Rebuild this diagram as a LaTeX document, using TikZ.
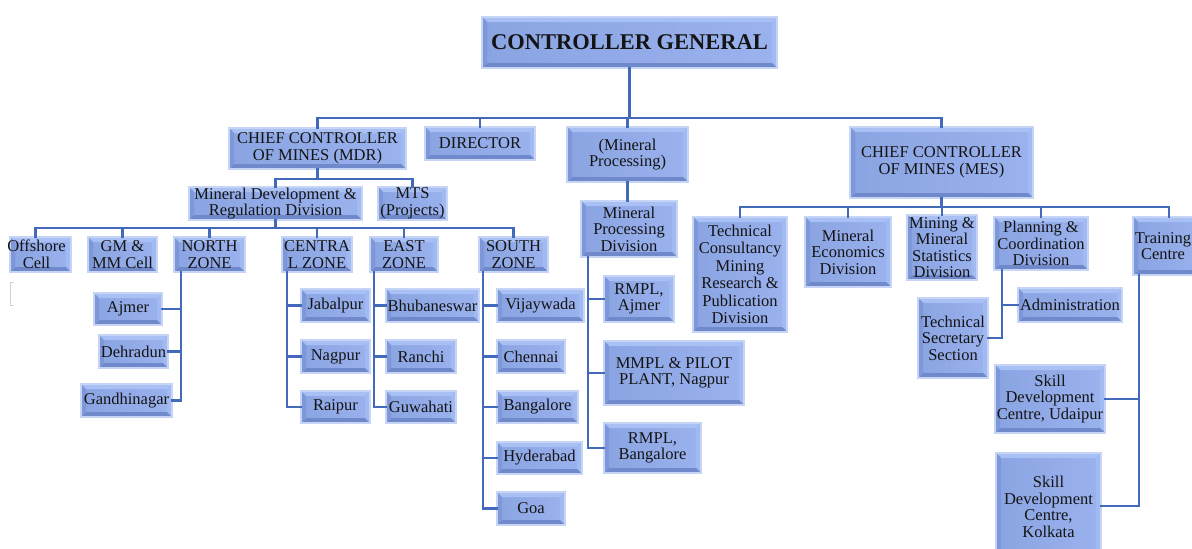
\documentclass[tikz,border=0pt]{standalone}
\usepackage{fontspec}
\setmainfont{Liberation Serif}
\newfontfamily\orgfont{Liberation Serif}
\usetikzlibrary{calc,fit}

\definecolor{faceL}{HTML}{8AA4E2}
\definecolor{faceR}{HTML}{9AB2EE}
\definecolor{glow}{HTML}{C6D4F5}
\definecolor{bvtop}{HTML}{A9C0F5}
\definecolor{bvright}{HTML}{A2BAF2}
\definecolor{bvbottom}{HTML}{7089CB}
\definecolor{bvleft}{HTML}{7E97D8}
\definecolor{linkblue}{HTML}{4369BA}
\definecolor{ink}{HTML}{141414}

\newcommand{\bvw}{5pt}

\tikzset{
  orgbox/.style={draw=glow, line width=1.6pt, left color=faceL, right color=faceR,
    inner sep=0pt, outer sep=0pt,
    path picture={
      \coordinate (pa) at (path picture bounding box.north west);
      \coordinate (pb) at (path picture bounding box.south east);
      \fill[bvtop] (pa) -- (pa -| pb) -- ([shift={(-\bvw,-\bvw)}]pa -| pb) -- ([shift={(\bvw,-\bvw)}]pa) -- cycle;
      \fill[bvright] (pa -| pb) -- (pb) -- ([shift={(-\bvw,\bvw)}]pb) -- ([shift={(-\bvw,-\bvw)}]pa -| pb) -- cycle;
      \fill[bvbottom] (pb) -- (pb -| pa) -- ([shift={(\bvw,\bvw)}]pb -| pa) -- ([shift={(-\bvw,\bvw)}]pb) -- cycle;
      \fill[bvleft] (pb -| pa) -- (pa) -- ([shift={(\bvw,-\bvw)}]pa) -- ([shift={(\bvw,\bvw)}]pb -| pa) -- cycle;
    }},
  txt/.style={text=ink, align=center, inner sep=0pt, font=\orgfont\fontsize{16.5}{16.5}\selectfont},
  conn/.style={draw=linkblue, line width=2.4pt, line cap=rect}
}

% \obox{name}{x1}{y1}{x2}{y2}{text}
\newcommand{\obox}[6]{%
  \node[orgbox, fit={(#2,#3) (#4,#5)}, label={[txt]center:#6}] (#1) {};}

\begin{document}
\begin{tikzpicture}[x=1pt,y=-1pt]
\useasboundingbox (0,0) rectangle (1192,549);

% ---------- top ----------
\node[orgbox, fit={(482,17) (777,68)},
  label={[txt, font=\orgfont\bfseries\fontsize{22.5}{24}\selectfont]center:CONTROLLER GENERAL}] (cg) {};

% ---------- second level ----------
\obox{mdr}{229}{128}{406}{169}{CHIEF CONTROLLER\\OF MINES (MDR)}
\obox{dir}{425}{127}{535}{160}{DIRECTOR}
\obox{mp}{567}{127}{688}{182}{(Mineral\\Processing)}
\obox{mes}{850}{127}{1033}{198}{CHIEF CONTROLLER\\OF MINES (MES)}

% ---------- MDR branch ----------
\obox{mdrd}{189}{187}{362}{220}{Mineral Development \&\\Regulation Division}
\obox{mts}{378}{187}{447}{220}{MTS\\(Projects)}

\node[orgbox, fit={(10,237) (71,272)},
  label={[txt, xshift=-4pt]center:Offshore\\Cell}] (off) {};
\obox{gm}{88}{237}{157}{272}{GM \&\\MM Cell}
\obox{nz}{174}{237}{245}{272}{NORTH\\ZONE}
\obox{cz}{282}{237}{352}{272}{CENTRA\\L ZONE}
\obox{ez}{370}{237}{438}{272}{EAST\\ZONE}
\obox{sz}{479}{237}{548}{272}{SOUTH\\ZONE}

\obox{ajm}{94}{293}{162}{325}{Ajmer}
\obox{deh}{99}{335}{168}{368}{Dehradun}
\obox{gan}{81}{384}{172}{417}{Gandhinagar}

\obox{jab}{301}{289}{370}{322}{Jabalpur}
\obox{nag}{301}{340}{370}{373}{Nagpur}
\obox{rai}{301}{391}{370}{423}{Raipur}

\obox{bhu}{386}{289}{479}{322}{Bhubaneswar}
\obox{ran}{386}{340}{456}{373}{Ranchi}
\obox{guw}{386}{391}{456}{423}{Guwahati}

\obox{vij}{497}{289}{584}{322}{Vijaywada}
\obox{che}{497}{340}{565}{373}{Chennai}
\obox{ban}{497}{391}{578}{423}{Bangalore}
\obox{hyd}{497}{442}{582}{474}{Hyderabad}
\obox{goa}{497}{492}{565}{525}{Goa}

% ---------- mineral processing branch ----------
\obox{mpd}{581}{201}{677}{257}{Mineral\\Processing\\Division}
\obox{rma}{604}{276}{674}{322}{RMPL,\\Ajmer}
\obox{mmp}{604}{341}{744}{405}{MMPL \& PILOT\\PLANT, Nagpur}
\obox{rmb}{604}{423}{701}{473}{RMPL,\\Bangalore}

% ---------- MES branch ----------
\node[orgbox, fit={(693,217) (787,332)},
  label={[txt, font=\orgfont\fontsize{16.5}{17.5}\selectfont]center:Technical\\Consultancy\\Mining\\Research \&\\Publication\\Division}] (tcm) {};
\obox{med}{805}{217}{891}{287}{Mineral\\Economics\\Division}
\obox{mms}{907}{215}{977}{280}{Mining \&\\Mineral\\Statistics\\Division}
\obox{pcd}{994}{217}{1088}{270}{Planning \&\\Coordination\\Division}
\node[orgbox, fit={(1133,217) (1205,275)},
  label={[txt, xshift=-6pt]center:Training\\Centre}] (trc) {};

\obox{adm}{1018}{288}{1122}{322}{Administration}
\obox{tss}{918}{298}{988}{378}{Technical\\Secretary\\Section}
\obox{sdu}{995}{365}{1105}{433}{Skill\\Development\\Centre, Udaipur}
\node[orgbox, fit={(996,453) (1101,559)},
  label={[txt, yshift=-1pt]center:Skill\\Development\\Centre,\\Kolkata}] (sdk) {};

% faint bracket mark at the left margin
\draw[black!18, line width=0.8pt] (14,282) -- (10,282) -- (10,305) -- (14,305);

% ---------- connectors ----------
\coordinate (t1) at ($(cg.south)+(0,50)$);
\draw[conn] (cg.south) -- (t1);
\foreach \n in {mdr,dir,mp,mes} \draw[conn] (\n.north) |- (t1);

\coordinate (t2) at ($(mdr.south)+(0,10)$);
\draw[conn] (mdr.south) -- (t2);
\draw[conn] (mdrd.north) |- (t2);
\draw[conn] (mts.north) |- (t2);

\coordinate (t3) at ($(mdrd.south)+(0,8)$);
\draw[conn] (mdrd.south) -- (t3);
\draw[conn] ($(off.north)+(-5,0)$) |- (t3);
\foreach \n in {gm,nz,cz,ez,sz} \draw[conn] (\n.north) |- (t3);

% north zone
\coordinate (nv) at ($(nz.south west)+(7,0)$);
\draw[conn] (nv) |- (gan.east);
\draw[conn] (ajm.east) -- (ajm.east -| nv);
\draw[conn] (deh.east) -- (deh.east -| nv);

% central zone
\coordinate (cv) at ($(cz.south west)+(5,0)$);
\draw[conn] (cv) |- (rai.west);
\draw[conn] (jab.west) -- (jab.west -| cv);
\draw[conn] (nag.west) -- (nag.west -| cv);

% east zone
\coordinate (ev) at ($(ez.south west)+(4,0)$);
\draw[conn] (ev) |- (guw.west);
\draw[conn] (bhu.west) -- (bhu.west -| ev);
\draw[conn] (ran.west) -- (ran.west -| ev);

% south zone
\coordinate (sv) at ($(sz.south west)+(4,0)$);
\draw[conn] (sv) |- (goa.west);
\foreach \n in {vij,che,ban,hyd} \draw[conn] (\n.west) -- (\n.west -| sv);

% mineral processing
\draw[conn] (mp.south) -- (mp.south |- mpd.north);
\coordinate (mv) at ($(mpd.south west)+(7,0)$);
\draw[conn] (mv) |- (rmb.west);
\draw[conn] (rma.west) -- (rma.west -| mv);
\draw[conn] (mmp.west) -- (mmp.west -| mv);

% MES
\coordinate (t4) at ($(mes.south)+(0,9)$);
\draw[conn] (mes.south) -- (t4);
\foreach \n in {tcm,med,mms,pcd,trc} \draw[conn] (\n.north) |- (t4);

\coordinate (pv) at ($(pcd.south west)+(8,0)$);
\draw[conn] (pv) |- (tss.east);
\draw[conn] (adm.west) -- (adm.west -| pv);

\coordinate (tv) at ($(trc.south west)+(6,0)$);
\draw[conn] (tv) |- (sdk.east);
\draw[conn] (sdu.east) -- (sdu.east -| tv);
\end{tikzpicture}
\end{document}
